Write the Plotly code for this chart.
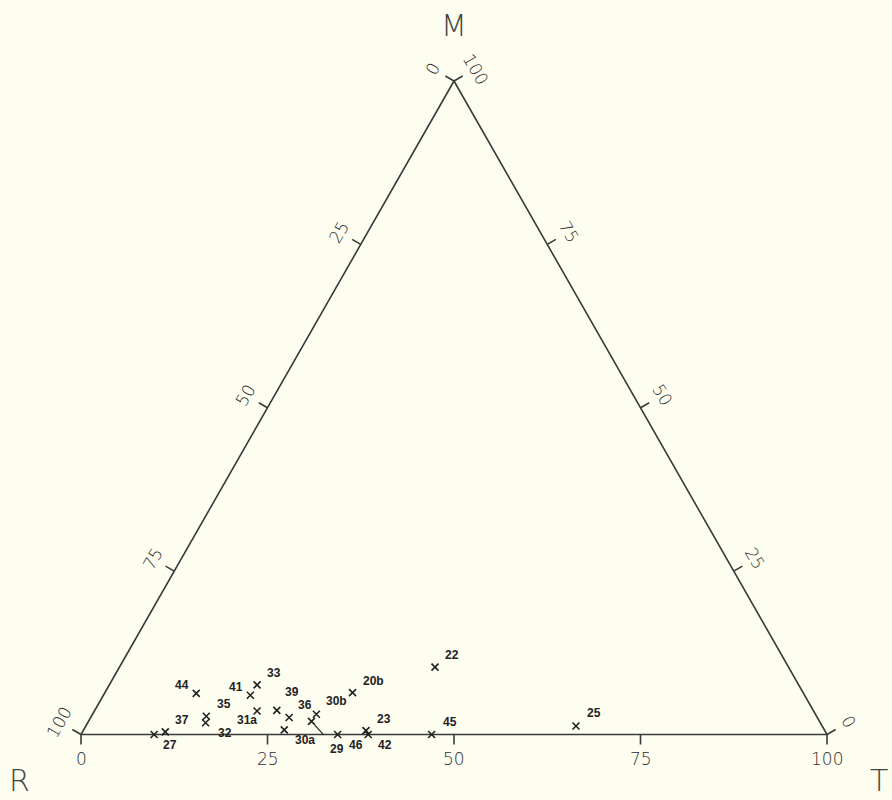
import math
import plotly.graph_objects as go

# ---- data (percent) ----
labels = ["44", "41", "33", "35", "32", "37", "27", "31a", "39", "36",
          "30a", "29", "30b", "20b", "46", "23", "42", "45", "22", "25"]
M_vals = [6.3, 6.0, 7.6, 2.8, 1.8, 0.4, 0.0, 3.6, 3.7, 2.6,
          0.7, 2.0, 3.1, 6.4, 0.0, 0.6, 0.0, 0.0, 10.3, 1.3]
T_vals = [12.3, 19.7, 19.8, 15.4, 15.8, 11.1, 9.8, 21.8, 24.4, 26.6,
          26.9, 29.9, 30.0, 33.2, 34.4, 37.9, 38.5, 47.0, 42.3, 65.7]
R_vals = [round(100 - m - t, 1) for m, t in zip(M_vals, T_vals)]
tick_values = [0, 25, 50, 75, 100]
vertex_names = ["M", "R", "T"]

# ---- styling / geometry ----
H = 0.876          # height of M vertex relative to base width
PX = 746.0         # pixels per unit
LC = "#3a3a3a"
BG = "#fdfdf0"
label_offsets = {  # pixel offsets (dx, dy screen)
    "44": (-14, -8), "41": (-14, -8), "33": (17, -12), "35": (18, -12),
    "32": (19, 10), "37": (17, -12), "27": (16, 10), "31a": (-10, 9),
    "39": (15, -18), "36": (16, -13), "30a": (21, 10), "30b": (20, -13),
    "20b": (21, -12), "46": (18, 10), "23": (18, -12), "42": (17, 10),
    "45": (18, -13), "22": (17, -12), "25": (18, -13),
}
leader = {"29": (25, 28)}


def to_xy(r, m, t):
    s = r + m + t
    m, t = m / s, t / s
    return t + 0.5 * m, H * m


xs, ys = zip(*[to_xy(r, m, t) for r, m, t in zip(R_vals, M_vals, T_vals)])

fig = go.Figure()

# triangle
Rv, Tv, Mv = to_xy(100, 0, 0), to_xy(0, 0, 100), to_xy(0, 100, 0)
fig.add_trace(go.Scatter(x=[Rv[0], Tv[0], Mv[0], Rv[0]], y=[Rv[1], Tv[1], Mv[1], Rv[1]],
                         mode="lines", line=dict(color=LC, width=1.6),
                         hoverinfo="skip", showlegend=False))

# ticks
tl = 10 / PX
ll = 25 / PX
edge_len = math.hypot(0.5, H)
nl = (-H / edge_len, 0.5 / edge_len)   # outward normal, left edge
nr = (H / edge_len, 0.5 / edge_len)    # outward normal, right edge
tx, ty = [], []
annots = []
tick_font = dict(family="DejaVu Sans", size=17, color="#2e2e2e", weight=200)
for v in tick_values:
    # bottom: T value
    px, py = to_xy(100 - v, 0, v)
    tx += [px, px, None]; ty += [py, py - tl, None]
    annots.append(dict(x=px, y=py - 24 / PX, text=str(v), showarrow=False, font=tick_font,
                       xref="x", yref="y"))
    # left: R value
    px, py = to_xy(v, 100 - v, 0)
    tx += [px, px + nl[0] * tl, None]; ty += [py, py + nl[1] * tl, None]
    annots.append(dict(x=px + nl[0] * ll, y=py + nl[1] * ll, text=str(v), showarrow=False,
                       font=tick_font, textangle=-60, xref="x", yref="y"))
    # right: M value
    px, py = to_xy(0, v, 100 - v)
    tx += [px, px + nr[0] * tl, None]; ty += [py, py + nr[1] * tl, None]
    annots.append(dict(x=px + nr[0] * ll, y=py + nr[1] * ll, text=str(v), showarrow=False,
                       font=tick_font, textangle=60, xref="x", yref="y"))
fig.add_trace(go.Scatter(x=tx, y=ty, mode="lines", line=dict(color=LC, width=1.6),
                         hoverinfo="skip", showlegend=False))

# points
fig.add_trace(go.Scatter(x=xs, y=ys, mode="markers", text=labels,
                         marker=dict(symbol="x-thin", size=7,
                                     line=dict(color="#222", width=1.6)),
                         showlegend=False))

pt_font = dict(family="Liberation Sans", size=12, color="#222", weight="bold")
for lab, x, y in zip(labels, xs, ys):
    if lab in leader:
        ax, ay = leader[lab]
        annots.append(dict(x=x, y=y, text=lab, showarrow=True, ax=ax, ay=ay,
                           arrowhead=0, arrowwidth=1.2, arrowcolor="#222",
                           standoff=5, startstandoff=8, font=pt_font,
                           xref="x", yref="y"))
    else:
        dx, dy = label_offsets[lab]
        annots.append(dict(x=x, y=y, text=lab, showarrow=False, xshift=dx, yshift=-dy,
                           font=pt_font, xref="x", yref="y"))

# vertex names
vfont = dict(family="DejaVu Sans", size=30, color="#444", weight=200)
annots.append(dict(x=Mv[0], y=Mv[1] + 56 / PX, text=vertex_names[0], showarrow=False, font=vfont))
annots.append(dict(x=Rv[0] - 62 / PX, y=Rv[1] - 46 / PX, text=vertex_names[1], showarrow=False, font=vfont))
annots.append(dict(x=Tv[0] + 52 / PX, y=Tv[1] - 46 / PX, text=vertex_names[2], showarrow=False, font=vfont))

x0 = -81 / PX
y_top = 734.5 / PX
fig.update_layout(
    width=892, height=800,
    margin=dict(l=0, r=0, t=0, b=0),
    paper_bgcolor=BG, plot_bgcolor=BG,
    xaxis=dict(range=[x0, x0 + 892 / PX], visible=False, fixedrange=True),
    yaxis=dict(range=[y_top - 800 / PX, y_top], visible=False, fixedrange=True),
    annotations=annots,
    showlegend=False,
)
fig.write_html(
    "out.html",
    config={"displayModeBar": False},
    post_script="document.body.style.margin='0';document.body.style.background='%s';" % BG,
)
